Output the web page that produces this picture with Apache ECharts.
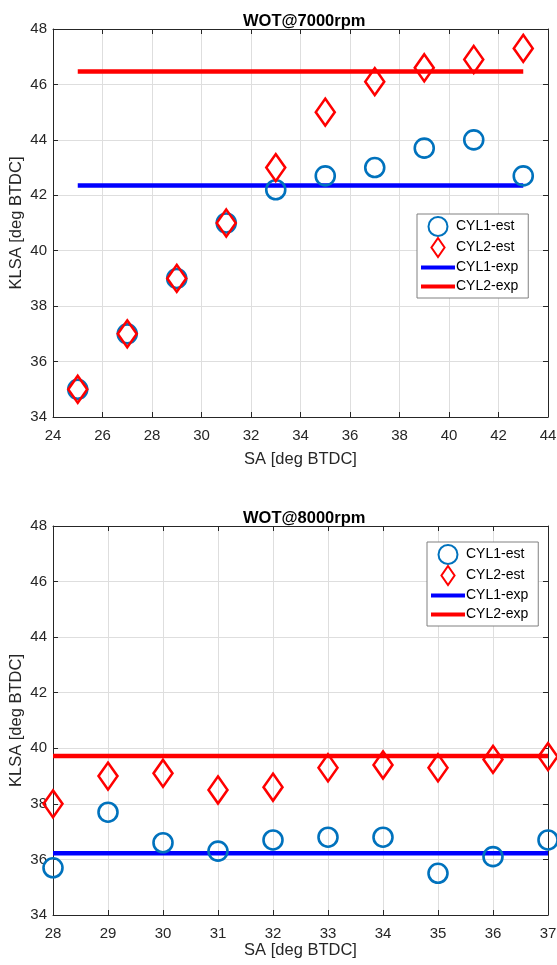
<!DOCTYPE html>
<html>
<head>
<meta charset="utf-8">
<script src="https://cdn.jsdelivr.net/npm/echarts@6/dist/echarts.min.js"></script>
<style>
  html, body { margin: 0; padding: 0; background: #fff; }
  #main { width: 557px; height: 965px; }
</style>
</head>
<body>
<div id="main"></div>
<script>
// WOT@7000rpm
var sa7000 = [25, 27, 29, 31, 33, 35, 37, 39, 41, 43];
var cyl1Est7000 = [35, 37, 39, 41, 42.2, 42.7, 43.0, 43.7, 44.0, 42.7];
var cyl2Est7000 = [35, 37, 39, 41, 43.0, 45.0, 46.1, 46.6, 46.9, 47.3];
var cyl1Exp7000 = 42.35;
var cyl2Exp7000 = 46.47;

// WOT@8000rpm
var sa8000 = [28, 29, 30, 31, 32, 33, 34, 35, 36, 37];
var cyl1Est8000 = [35.7, 37.7, 36.6, 36.3, 36.7, 36.8, 36.8, 35.5, 36.1, 36.7];
var cyl2Est8000 = [38.0, 39.0, 39.1, 38.5, 38.6, 39.3, 39.4, 39.3, 39.6, 39.7];
var cyl1Exp8000 = 36.22;
var cyl2Exp8000 = 39.72;

var titles = ['WOT@7000rpm', 'WOT@8000rpm'];
var legendNames = ['CYL1-est', 'CYL2-est', 'CYL1-exp', 'CYL2-exp'];

var chart = echarts.init(document.getElementById('main'));

var font = 'Liberation Sans, Arial, Helvetica, sans-serif';
var axisCol = '#262626';
var gridCol = '#dedede';
var diamond = 'path://M0,-13L9,0L0,13L-9,0Z';
// thin bar inside a 34x19 box, so the legend draws a plain line
var lineIcon = 'path://M0,0M34,19M0,7.5L34,7.5L34,11.5L0,11.5Z';

function pairs(xs, ys) {
  return xs.map(function (x, i) { return [x, ys[i]]; });
}
function flat(xs, v) {
  return [[xs[0], v], [xs[xs.length - 1], v]];
}

function mainX(gi, min, max, interval, gap) {
  return {
    type: 'value', gridIndex: gi, min: min, max: max, interval: interval,
    name: 'SA [deg BTDC]', nameLocation: 'middle', nameGap: gap, nameMoveOverlap: false,
    nameTextStyle: { color: axisCol, fontSize: 16.5, fontFamily: font },
    axisLine: { lineStyle: { color: axisCol, width: 1 } },
    axisTick: { inside: true, length: 5, lineStyle: { color: axisCol } },
    axisLabel: { color: axisCol, fontSize: 15, fontFamily: font, margin: 11 },
    splitLine: { show: true, lineStyle: { color: gridCol, width: 1 } }
  };
}
function mainY(gi) {
  return {
    type: 'value', gridIndex: gi, min: 34, max: 48, interval: 2,
    name: 'KLSA [deg BTDC]', nameLocation: 'middle', nameGap: 28, nameMoveOverlap: false,
    nameTextStyle: { color: axisCol, fontSize: 16.5, fontFamily: font },
    axisLine: { lineStyle: { color: axisCol, width: 1 } },
    axisTick: { inside: true, length: 5, lineStyle: { color: axisCol } },
    axisLabel: { color: axisCol, fontSize: 15, fontFamily: font, margin: 6 },
    splitLine: { show: true, lineStyle: { color: gridCol, width: 1 } }
  };
}
function boxX(gi, min, max, interval) {
  return {
    type: 'value', gridIndex: gi, position: 'top', min: min, max: max, interval: interval,
    axisLine: { show: true, lineStyle: { color: axisCol, width: 1 } },
    axisTick: { inside: true, length: 5, lineStyle: { color: axisCol } },
    axisLabel: { show: false }, splitLine: { show: false }
  };
}
function boxY(gi) {
  return {
    type: 'value', gridIndex: gi, position: 'right', min: 34, max: 48, interval: 2,
    axisLine: { show: true, lineStyle: { color: axisCol, width: 1 } },
    axisTick: { inside: true, length: 5, lineStyle: { color: axisCol } },
    axisLabel: { show: false }, splitLine: { show: false }
  };
}

function seriesFor(gi, xs, est1, est2, exp1, exp2) {
  var xi = gi * 2, yi = gi * 2;
  return [
    {
      name: legendNames[0], type: 'scatter', xAxisIndex: xi, yAxisIndex: yi,
      symbol: 'circle', symbolSize: 19,
      itemStyle: { color: 'rgba(0,0,0,0)', borderColor: '#0072BD', borderWidth: 2.6, opacity: 1 },
      data: pairs(xs, est1), z: 3
    },
    {
      name: legendNames[1], type: 'scatter', xAxisIndex: xi, yAxisIndex: yi,
      symbol: diamond, symbolSize: [19, 27],
      itemStyle: { color: 'rgba(0,0,0,0)', borderColor: '#FF0000', borderWidth: 2.6, opacity: 1 },
      data: pairs(xs, est2), z: 4
    },
    {
      name: legendNames[2], type: 'line', xAxisIndex: xi, yAxisIndex: yi,
      symbol: 'none', lineStyle: { color: '#0000FF', width: 4.5 },
      itemStyle: { color: '#0000FF' },
      data: flat(xs, exp1), z: 2
    },
    {
      name: legendNames[3], type: 'line', xAxisIndex: xi, yAxisIndex: yi,
      symbol: 'none', lineStyle: { color: '#FF0000', width: 4.5 },
      itemStyle: { color: '#FF0000' },
      data: flat(xs, exp2), z: 2
    }
  ];
}

function legendAt(left, top) {
  return {
    orient: 'vertical', left: left, top: top, width: 113,
    data: [
      { name: legendNames[0] },
      { name: legendNames[1] },
      { name: legendNames[2], icon: lineIcon, itemStyle: { borderWidth: 0 } },
      { name: legendNames[3], icon: lineIcon, itemStyle: { borderWidth: 0 } }
    ],
    selectedMode: false,
    itemWidth: 34, itemHeight: 19, itemGap: 0,
    backgroundColor: '#fff', borderColor: '#808080', borderWidth: 1,
    padding: [2, 10, 2, 4],
    textStyle: { color: '#000', fontSize: 14, fontFamily: font, padding: [0, 0, 0, -4] }
  };
}

var option = {
  animation: false,
  backgroundColor: '#fff',
  title: [
    { text: titles[0], left: 238, top: 8,
      textStyle: { color: '#000', fontSize: 16.5, fontWeight: 'bold', fontFamily: font } },
    { text: titles[1], left: 238, top: 505,
      textStyle: { color: '#000', fontSize: 16.5, fontWeight: 'bold', fontFamily: font } }
  ],
  grid: [
    { left: 53, top: 29, width: 495, height: 388, outerBoundsMode: 'none', containLabel: false },
    { left: 53, top: 526, width: 495, height: 389, outerBoundsMode: 'none', containLabel: false }
  ],
  xAxis: [
    mainX(0, 24, 44, 2, 34), boxX(0, 24, 44, 2),
    mainX(1, 28, 37, 1, 27), boxX(1, 28, 37, 1)
  ],
  yAxis: [
    mainY(0), boxY(0),
    mainY(1), boxY(1)
  ],
  legend: [legendAt(417, 214), legendAt(427, 542)],
  series: seriesFor(0, sa7000, cyl1Est7000, cyl2Est7000, cyl1Exp7000, cyl2Exp7000)
    .concat(seriesFor(1, sa8000, cyl1Est8000, cyl2Est8000, cyl1Exp8000, cyl2Exp8000))
};

chart.setOption(option);
</script>
</body>
</html>
